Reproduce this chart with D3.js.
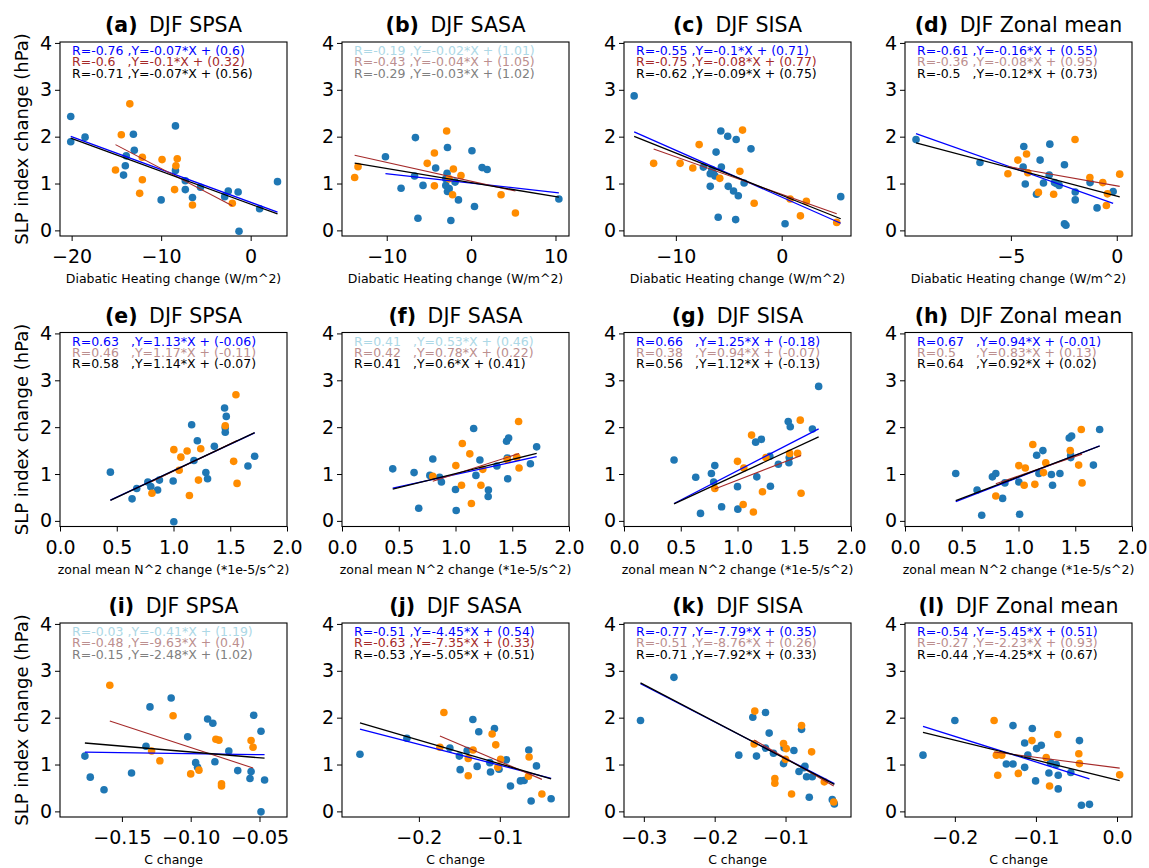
<!DOCTYPE html>
<html>
<head>
<meta charset="utf-8">
<script src="https://cdn.jsdelivr.net/npm/d3@7"></script>
<style>
  body { margin: 0; background: #fff; }
  text { font-family: "DejaVu Sans", sans-serif; }
</style>
</head>
<body>
<div id="chart"></div>
<script>
// ---- data ----
// [x, y] pairs; blue = first model group, orange = second group
var a_blue = [[-20.1,2.43],[-20.1,1.89],[-18.5,1.99],[-13.1,2.05],[-13.0,1.71],[-13.9,1.59],[-14.0,1.38],[-14.2,1.18],[-8.4,2.23],[-8.4,1.28],[-10.0,0.65],[-7.3,0.87],[-7.3,1.06],[-6.5,0.70],[-5.6,0.92],[-2.5,0.84],[-2.9,0.72],[-1.4,0.82],[-1.3,-0.02],[1.0,0.46],[3.0,1.04]];
var a_orange = [[-13.5,2.70],[-14.45,2.04],[-15.1,1.29],[-12.1,1.56],[-12.1,1.08],[-12.4,0.79],[-9.9,1.51],[-8.2,1.53],[-8.35,1.38],[-8.5,0.87],[-6.5,0.54],[-2.05,0.58]];
var b_blue = [[-10.15,1.57],[-6.6,1.98],[-6.7,1.16],[-8.3,0.90],[-5.7,0.96],[-6.3,0.26],[-4.2,1.33],[-2.8,1.77],[-2.85,1.22],[-3.0,0.96],[-2.8,0.83],[-2.6,0.89],[-1.9,1.03],[-1.5,0.65],[-2.4,0.21],[0.1,1.70],[0.4,0.51],[1.3,1.34],[1.9,1.30],[10.4,0.67],[-3.0,1.10]];
var b_orange = [[-13.8,1.13],[-13.4,1.36],[-5.2,1.43],[-4.35,1.65],[-4.35,0.95],[-2.9,2.12],[-2.1,1.31],[-1.2,1.17],[-2.2,0.76],[3.55,0.76],[5.25,0.37],[-2.6,1.10]];
var c_blue = [[-13.94,2.87],[-7.4,1.35],[-6.75,1.21],[-6.45,1.22],[-6.3,1.16],[-6.2,1.67],[-5.75,2.12],[-5.7,1.35],[-6.75,0.94],[-6.0,0.28],[-5.1,2.01],[-4.3,1.94],[-5.05,0.94],[-4.55,0.84],[-4.1,0.74],[-4.35,0.23],[-3.55,1.01],[-2.9,1.74],[0.32,0.14],[5.58,0.72],[-6.6,1.30]];
var c_orange = [[-12.1,1.43],[-9.6,1.43],[-8.4,1.33],[-7.8,1.83],[-5.85,1.11],[-3.95,1.26],[-3.7,2.14],[-2.6,0.58],[0.8,0.67],[1.77,0.31],[2.33,0.62],[5.2,0.17]];
var d_blue = [[-9.48,1.94],[-6.46,1.45],[-4.39,1.79],[-4.42,1.35],[-4.32,0.99],[-3.62,1.50],[-3.16,1.84],[-3.19,1.18],[-3.46,1.01],[-3.79,0.77],[-2.94,1.02],[-2.72,0.96],[-2.47,1.40],[-2.47,0.14],[-2.4,0.11],[-1.96,0.82],[-1.96,0.65],[-1.26,1.02],[-0.93,0.48],[-0.17,0.83],[-2.85,1.0]];
var d_orange = [[-5.14,1.21],[-4.67,1.50],[-4.26,1.63],[-4.2,1.23],[-3.7,0.81],[-2.98,0.77],[-1.97,1.94],[-1.27,1.13],[-0.66,1.02],[-0.44,0.78],[-0.49,0.53],[0.14,1.20]];
var e_blue = [[0.444,1.04],[0.635,0.47],[0.676,0.69],[0.774,0.83],[0.80,0.73],[0.86,0.66],[0.876,0.87],[0.997,0.85],[1.003,-0.02],[1.16,2.05],[1.18,1.29],[1.21,1.71],[1.285,1.03],[1.30,0.90],[1.36,1.59],[1.45,2.41],[1.465,2.23],[1.456,1.89],[1.456,1.99],[1.656,1.17],[1.715,1.38]];
var e_orange = [[0.81,0.59],[1.003,1.52],[1.05,1.08],[1.065,1.36],[1.12,1.49],[1.14,0.54],[1.22,0.87],[1.24,1.54],[1.456,2.03],[1.55,2.69],[1.53,1.27],[1.56,0.80]];
var f_blue = [[0.447,1.11],[0.635,1.03],[0.676,0.27],[0.774,0.97],[0.80,1.32],[0.86,0.93],[0.876,0.83],[1.0,0.67],[1.006,0.22],[1.16,1.97],[1.18,0.97],[1.215,1.30],[1.29,0.66],[1.288,0.52],[1.365,1.17],[1.45,1.70],[1.468,1.77],[1.456,1.34],[1.46,0.90],[1.66,1.22],[1.715,1.58]];
var f_orange = [[0.80,0.95],[1.003,1.18],[1.06,1.65],[1.126,1.43],[1.053,0.76],[1.14,0.37],[1.24,1.10],[1.224,0.76],[1.556,2.12],[1.56,1.13],[1.54,1.36],[1.456,1.31]];
var g_blue = [[0.441,1.30],[0.632,0.93],[0.674,0.16],[0.77,1.01],[0.80,1.18],[0.79,0.83],[0.86,0.30],[1.0,0.73],[1.003,0.25],[1.16,1.68],[1.21,1.74],[1.17,0.94],[1.29,0.74],[1.285,1.38],[1.36,1.21],[1.447,2.12],[1.465,2.01],[1.453,1.24],[1.456,1.35],[1.66,1.96],[1.715,2.87]];
var g_orange = [[0.80,0.69],[1.0,1.27],[1.056,1.13],[1.05,0.35],[1.124,1.83],[1.14,0.19],[1.22,0.62],[1.25,1.35],[1.46,1.44],[1.53,1.44],[1.553,2.15],[1.56,0.59]];
var h_blue = [[0.447,1.01],[0.635,0.66],[0.676,0.12],[0.77,0.94],[0.80,1.01],[0.86,0.48],[0.88,0.81],[1.003,0.83],[1.01,0.14],[1.16,1.40],[1.215,1.50],[1.18,1.01],[1.29,0.99],[1.30,0.76],[1.365,1.01],[1.447,1.77],[1.468,1.81],[1.46,1.35],[1.46,1.40],[1.66,1.19],[1.715,1.95]];
var h_orange = [[0.80,0.53],[1.003,1.18],[1.06,1.13],[1.05,0.76],[1.126,1.63],[1.144,0.78],[1.22,1.03],[1.24,1.24],[1.456,1.50],[1.53,1.19],[1.553,1.95],[1.56,0.81]];
var i_blue = [[-0.1769,1.18],[-0.173,0.73],[-0.163,0.46],[-0.143,0.82],[-0.1325,1.39],[-0.1296,2.23],[-0.1142,2.42],[-0.1022,1.59],[-0.0964,1.04],[-0.095,0.94],[-0.0877,1.97],[-0.0839,1.88],[-0.0824,1.06],[-0.0723,1.29],[-0.0658,0.87],[-0.0561,0.85],[-0.0569,0.70],[-0.0542,2.05],[-0.0489,1.71],[-0.0489,-0.01],[-0.0463,0.67]];
var i_orange = [[-0.1588,2.69],[-0.1284,1.29],[-0.1224,1.08],[-0.1128,2.04],[-0.10,0.80],[-0.094,0.88],[-0.0817,1.54],[-0.0795,1.52],[-0.0776,0.59],[-0.0776,0.54],[-0.0561,1.51],[-0.0547,1.37]];
var j_blue = [[-0.2728,1.22],[-0.2148,1.56],[-0.1617,1.35],[-0.150,1.18],[-0.149,0.89],[-0.1403,1.30],[-0.1333,1.96],[-0.128,0.96],[-0.126,1.70],[-0.1123,1.04],[-0.1115,0.84],[-0.1066,1.77],[-0.101,0.90],[-0.0918,1.10],[-0.0868,0.54],[-0.0745,0.65],[-0.070,0.66],[-0.0642,1.31],[-0.0613,0.22],[-0.0547,0.97],[-0.0366,0.27]];
var j_orange = [[-0.1691,2.11],[-0.174,1.37],[-0.139,1.13],[-0.139,0.76],[-0.133,1.31],[-0.1095,1.65],[-0.105,1.42],[-0.1025,0.94],[-0.099,1.11],[-0.0638,1.16],[-0.0646,0.75],[-0.048,0.37]];
var k_blue = [[-0.3047,1.94],[-0.2575,2.86],[-0.166,1.20],[-0.1462,2.01],[-0.141,1.18],[-0.1283,2.11],[-0.1283,1.35],[-0.1231,1.67],[-0.117,1.24],[-0.1028,1.02],[-0.102,1.36],[-0.0882,1.30],[-0.081,0.85],[-0.0774,1.75],[-0.0726,0.96],[-0.0703,0.74],[-0.0665,0.30],[-0.0623,0.74],[-0.034,0.25],[-0.0311,0.16],[-0.074,0.93]];
var k_orange = [[-0.1434,2.14],[-0.1443,1.44],[-0.1151,0.70],[-0.1151,0.60],[-0.1028,1.45],[-0.099,1.34],[-0.1,1.11],[-0.0915,0.37],[-0.0774,1.83],[-0.0632,1.27],[-0.0453,0.63],[-0.032,0.20]];
var l_blue = [[-0.2393,1.20],[-0.2,1.94],[-0.1365,1.01],[-0.1283,1.83],[-0.1283,1.01],[-0.1139,1.46],[-0.1139,0.94],[-0.1045,1.77],[-0.1004,0.65],[-0.0992,1.34],[-0.0934,1.41],[-0.084,0.82],[-0.082,1.04],[-0.0725,0.77],[-0.0725,0.48],[-0.057,0.83],[-0.0463,1.51],[-0.0439,0.13],[-0.034,0.15],[-0.075,1.0],[-0.11,1.2]];
var l_orange = [[-0.1516,1.94],[-0.1488,1.20],[-0.1422,1.20],[-0.1471,0.77],[-0.1217,0.81],[-0.1049,1.51],[-0.0873,1.15],[-0.0832,0.54],[-0.073,1.64],[-0.0471,1.23],[-0.0463,1.02],[0.0033,0.78]];

// regression: [R, slope, intercept, significant] for blue, orange, all
var a_fit = [[-0.76,-0.07,0.6,1],[-0.6,-0.1,0.32,1],[-0.71,-0.07,0.56,1]];
var b_fit = [[-0.19,-0.02,1.01,0],[-0.43,-0.04,1.05,0],[-0.29,-0.03,1.02,0]];
var c_fit = [[-0.55,-0.1,0.71,1],[-0.75,-0.08,0.77,1],[-0.62,-0.09,0.75,1]];
var d_fit = [[-0.61,-0.16,0.55,1],[-0.36,-0.08,0.95,0],[-0.5,-0.12,0.73,1]];
var e_fit = [[0.63,1.13,-0.06,1],[0.46,1.17,-0.11,0],[0.58,1.14,-0.07,1]];
var f_fit = [[0.41,0.53,0.46,0],[0.42,0.78,0.22,0],[0.41,0.6,0.41,1]];
var g_fit = [[0.66,1.25,-0.18,1],[0.38,0.94,-0.07,0],[0.56,1.12,-0.13,1]];
var h_fit = [[0.67,0.94,-0.01,1],[0.5,0.83,0.13,0],[0.64,0.92,0.02,1]];
var i_fit = [[-0.03,-0.41,1.19,0],[-0.48,-9.63,0.4,0],[-0.15,-2.48,1.02,0]];
var j_fit = [[-0.51,-4.45,0.54,1],[-0.63,-7.35,0.33,1],[-0.53,-5.05,0.51,1]];
var k_fit = [[-0.77,-7.79,0.35,1],[-0.51,-8.76,0.26,0],[-0.71,-7.92,0.33,1]];
var l_fit = [[-0.54,-5.45,0.51,1],[-0.27,-2.23,0.93,0],[-0.44,-4.25,0.67,1]];

var letters = ['a','b','c','d','e','f','g','h','i','j','k','l'];
var regions = ['SPSA','SASA','SISA','Zonal mean'];
var xLabels = ['Diabatic Heating change (W/m^2)', 'zonal mean N^2 change (*1e-5/s^2)', 'C change'];
var yLabel = 'SLP index change (hPa)';
var yTicks = [0,1,2,3,4];
var xTicks = [[-20,-10,0],[-10,0,10],[-10,0],[-5,0],
              [0,0.5,1,1.5,2],[0,0.5,1,1.5,2],[0,0.5,1,1.5,2],[0,0.5,1,1.5,2],
              [-0.15,-0.10,-0.05],[-0.2,-0.1],[-0.3,-0.2,-0.1],[-0.2,-0.1,0]];
var xFormats = ['d','d','d','d','.1f','.1f','.1f','.1f','.2f','.1f','.1f','.1f'];
var xDomains = [[-21.3,4.06],[-15.3,11.6],[-14.9,6.55],[-10.0,0.72],
                [0,2],[0,2],[0,2],[0,2],
                [-0.195,-0.030],[-0.295,-0.0145],[-0.328,-0.0076],[-0.2615,0.0185]];
var yDomain = [-0.12, 4.02];

var blues = [a_blue,b_blue,c_blue,d_blue,e_blue,f_blue,g_blue,h_blue,i_blue,j_blue,k_blue,l_blue];
var oranges = [a_orange,b_orange,c_orange,d_orange,e_orange,f_orange,g_orange,h_orange,i_orange,j_orange,k_orange,l_orange];
var fits = [a_fit,b_fit,c_fit,d_fit,e_fit,f_fit,g_fit,h_fit,i_fit,j_fit,k_fit,l_fit];

// ---- layout ----
var W = 1149, H = 868;
var colLeft = [60, 342, 624, 905];
var rowTop = [42, 332.5, 623];
var pw = 227, ph = 194;

var dotColors = ['#1f77b4', '#ff8c00'];
var lineColors = ['blue', 'brown', 'black'];
var textColors = [['blue','lightblue'], ['brown','rosybrown'], ['black','gray']];

var svg = d3.select('#chart').append('svg')
    .attr('width', W)
    .attr('height', H)
    .style('background', '#fff');

letters.forEach(function (letter, i) {
    var col = i % 4, row = Math.floor(i / 4);
    var g = svg.append('g')
        .attr('transform', 'translate(' + colLeft[col] + ',' + rowTop[row] + ')');

    var x = d3.scaleLinear().domain(xDomains[i]).range([0, pw]);
    var y = d3.scaleLinear().domain(yDomain).range([ph, 0]);

    // axes
    var xa = g.append('g')
        .attr('transform', 'translate(0,' + ph + ')')
        .call(d3.axisBottom(x).tickValues(xTicks[i]).tickFormat(d3.format(xFormats[i]))
            .tickSize(5).tickPadding(9));
    var ya = g.append('g')
        .call(d3.axisLeft(y).tickValues(yTicks).tickFormat(d3.format('d'))
            .tickSize(5).tickPadding(3));
    [xa, ya].forEach(function (a) {
        a.select('.domain').remove();
        a.selectAll('text').attr('font-size', 19).attr('font-family', '"DejaVu Sans", sans-serif').attr('fill', '#000');
        a.selectAll('line').attr('stroke', '#000').attr('stroke-width', 1);
    });

    // points
    g.selectAll('.pb').data(blues[i]).enter().append('circle')
        .attr('cx', function (d) { return x(d[0]); })
        .attr('cy', function (d) { return y(d[1]); })
        .attr('r', 3.8)
        .attr('fill', dotColors[0]);
    g.selectAll('.po').data(oranges[i]).enter().append('circle')
        .attr('cx', function (d) { return x(d[0]); })
        .attr('cy', function (d) { return y(d[1]); })
        .attr('r', 3.8)
        .attr('fill', dotColors[1]);

    // fit lines over each group's x range
    var groups = [blues[i], oranges[i], blues[i].concat(oranges[i])];
    groups.forEach(function (pts, k) {
        var f = fits[i][k];
        var ext = d3.extent(pts, function (d) { return d[0]; });
        g.append('line')
            .attr('x1', x(ext[0])).attr('y1', y(f[1] * ext[0] + f[2]))
            .attr('x2', x(ext[1])).attr('y2', y(f[1] * ext[1] + f[2]))
            .attr('stroke', lineColors[k])
            .attr('stroke-width', k == 1 ? 1.1 : 1.3);
    });

    // annotation text
    fits[i].forEach(function (f, k) {
        var r = String(f[0]);
        var pad = ' '.repeat(1 + 2 * Math.max(0, 5 - r.length));
        g.append('text')
            .attr('x', 12)
            .attr('y', 13 + k * 11.3)
            .attr('font-size', 12.5)
            .attr('fill', textColors[k][f[3] ? 0 : 1])
            .style('white-space', 'pre')
            .text('R=' + r + pad + ',Y=' + f[1] + '*X + (' + f[2] + ')');
    });

    // frame
    g.append('rect')
        .attr('width', pw).attr('height', ph)
        .attr('fill', 'none').attr('stroke', '#000').attr('stroke-width', 1.1);

    // title
    var t = g.append('text')
        .attr('x', pw / 2).attr('y', -10)
        .attr('text-anchor', 'middle')
        .attr('font-size', 20.5);
    t.append('tspan').attr('font-weight', 'bold').text('(' + letter + ')');
    t.append('tspan').attr('dx', 5).text(' DJF ' + regions[col]);

    // x label
    g.append('text')
        .attr('x', pw / 2).attr('y', ph + 47)
        .attr('text-anchor', 'middle')
        .attr('font-size', 12.5)
        .text(xLabels[row]);

    if (col == 0) {
        g.append('text')
            .attr('transform', 'translate(' + (28 - colLeft[0]) + ',' + (ph / 2) + ') rotate(-90)')
            .attr('text-anchor', 'middle')
            .attr('font-size', 18)
            .text(yLabel);
    }
});
</script>
</body>
</html>
